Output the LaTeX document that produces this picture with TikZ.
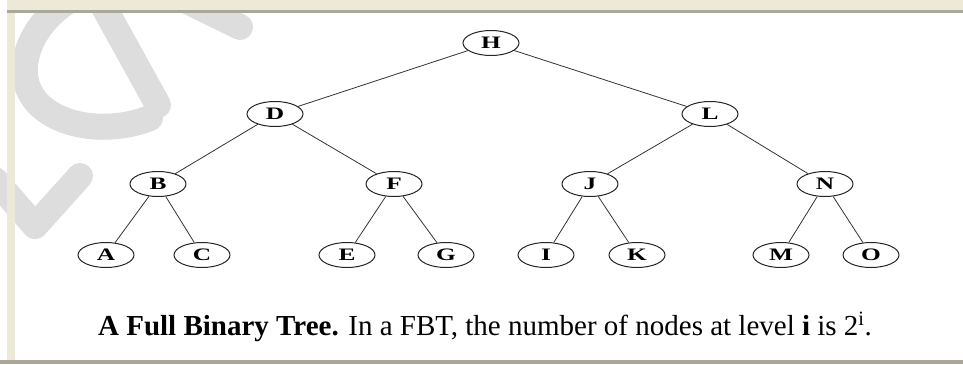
\documentclass[tikz,border=0pt]{standalone}
\usepackage{fontspec}
\setmainfont{Liberation Serif}
\newfontfamily\nodefont[FakeStretch=1.45]{Liberation Serif Bold}
\usetikzlibrary{shapes.geometric}
\definecolor{beige}{HTML}{ECE9D8}
\definecolor{frameline}{HTML}{ACA899}
\definecolor{wm}{HTML}{DDDDDD}
\definecolor{edgecol}{HTML}{333333}
\tikzset{
  tn/.style={ellipse, draw=black!85, line width=1pt, minimum width=56pt, minimum height=25pt, inner sep=0pt, font=\nodefont\fontsize{17.5}{17.5}\selectfont},
  tedge/.style={draw=edgecol, line width=0.8pt},
  wmstroke/.style={draw=wm, line width=26pt, line cap=round, line join=round}
}
\begin{document}
\begin{tikzpicture}[x=1pt,y=-1pt]
\useasboundingbox (0,0) rectangle (963,364);
\fill[white] (0,0) rectangle (963,364);
% watermark
\begin{scope}
\clip (0,0) rectangle (963,364);
\draw[wmstroke] (150,118) .. controls (95,140) and (20,120) .. (25,65) .. controls (28,35) and (50,12) .. (70,0);
\draw[wmstroke] (100,0) -- (158,105);
\draw[wmstroke] (185,0) -- (240,27);
\draw[wmstroke] (-5,180) -- (35,226) -- (80,176);
\end{scope}
% frame
\fill[beige] (7,0) rectangle (963,10);
\fill[frameline] (7,10) rectangle (963,13);
\fill[beige] (7,13) rectangle (15,360);
\fill[frameline] (0,360) rectangle (963,364);
% tree
\node[tn] (H) at (491,43) {H};
\node[tn] (D) at (275,114) {D};
\node[tn] (L) at (710,114) {L};
\node[tn] (B) at (158,184) {B};
\node[tn] (F) at (394,184) {F};
\node[tn] (J) at (590,184) {J};
\node[tn] (N) at (825,184) {N};
\node[tn] (A) at (106,255) {A};
\node[tn] (C) at (202,255) {C};
\node[tn] (E) at (347,255) {E};
\node[tn] (G) at (446,255) {G};
\node[tn] (I) at (546,255) {I};
\node[tn] (K) at (637,255) {K};
\node[tn] (M) at (781,255) {M};
\node[tn] (O) at (871,255) {O};
\foreach \p/\c in {H/D,H/L,D/B,D/F,L/J,L/N,B/A,B/C,F/E,F/G,J/I,J/K,N/M,N/O}
  \draw[tedge] (\p) -- (\c);
\node[anchor=base, font=\fontsize{29}{29}\selectfont, inner sep=0pt] (cap) at (485,335)
  {\textbf{A Full Binary Tree.} In a FBT, the number of nodes at level \textbf{i} is 2$^{\mathrm{i}}$.};
\end{tikzpicture}
\end{document}
